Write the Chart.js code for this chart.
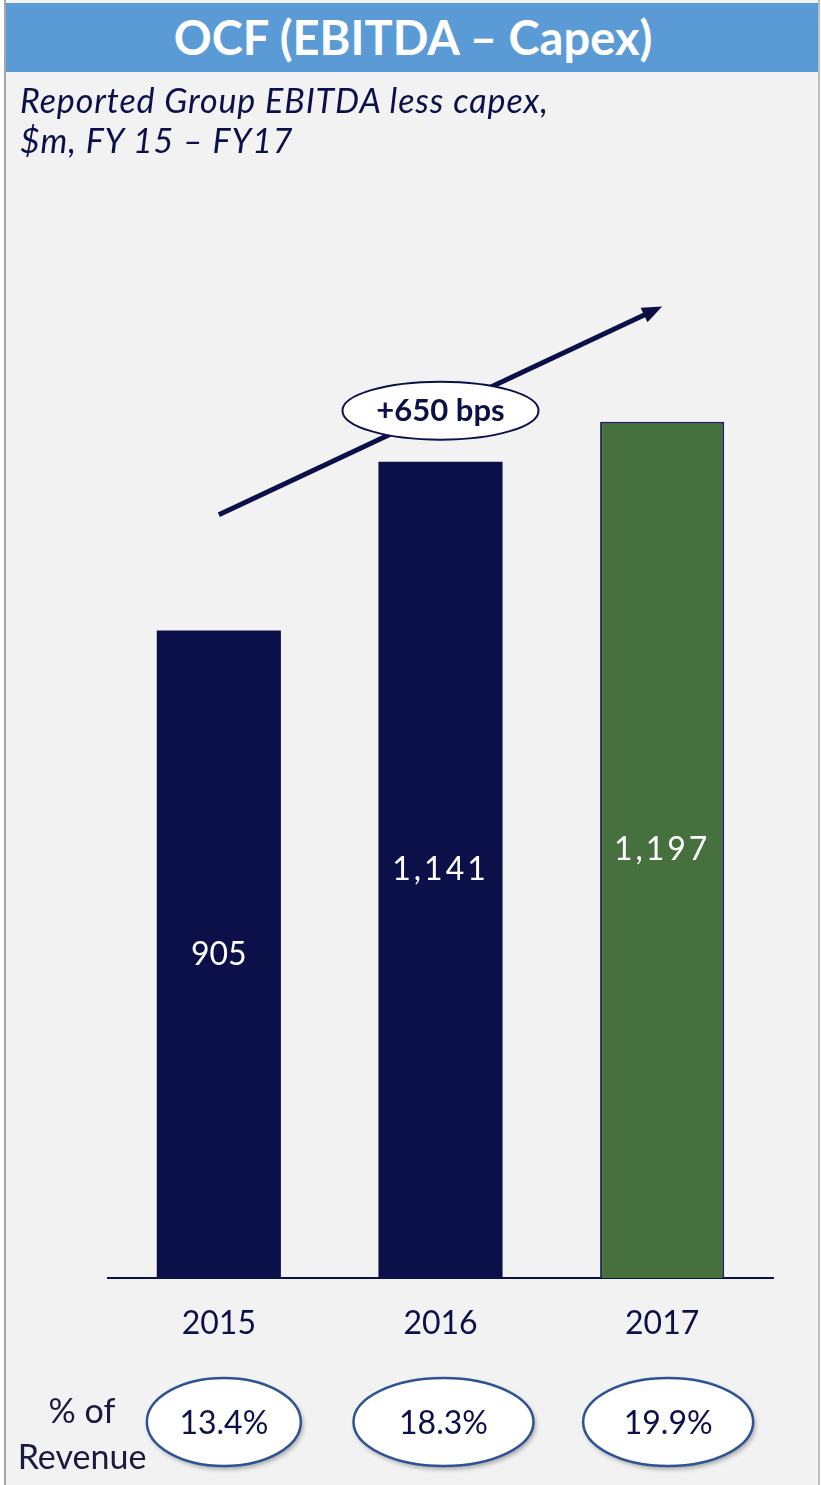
<!DOCTYPE html>
<html>
<head>
<meta charset="utf-8">
<script src="https://cdn.jsdelivr.net/npm/chart.js@4"></script>
<style>
  body { margin: 0; background: #ffffff; }
  #page {
    position: relative; width: 812px; height: 1485px; margin-left: 4px;
    background: #F2F2F2; border-left: 2px solid #A6A6A6; border-right: 2px solid #BFBFBF;
    font-family: Lato, "Open Sans", sans-serif; overflow: hidden;
  }
  #title {
    position: absolute; left: 0; top: 3px; width: 814px; height: 69px;
    background: #5B9BD5; color: #fff; font-weight: bold; font-size: 47px;
    text-align: center; line-height: 69px;
  }
  #subtitle {
    position: absolute; left: 14px; top: 80px; color: #0C1048;
    font-style: italic; font-size: 34px; line-height: 40px; letter-spacing: 0.9px;
  }
  #chart { position: absolute; left: -6px; top: 0; }
</style>
</head>
<body>
<div id="page">
  <canvas id="chart" width="821" height="1485"></canvas>
  <div id="title">OCF (EBITDA – Capex)</div>
  <div id="subtitle">Reported Group EBITDA less capex,<br>$m, FY 15 – FY17</div>
</div>
<script>
const years = ['2015', '2016', '2017'];
const ocf = [905, 1141, 1197];
const ocfLabels = ['905', '1,141', '1,197'];
const pctRevenue = ['13.4%', '18.3%', '19.9%'];
const growthLabel = '+650 bps';

const navy = '#0C1048';
const green = '#46703E';

// white value labels in the middle of each bar
const valueLabels = {
    id: 'valueLabels',
    afterDatasetsDraw(chart) {
        const ctx = chart.ctx;
        const meta = chart.getDatasetMeta(0);
        ctx.save();
        ctx.fillStyle = '#ffffff';
        ctx.font = '32px Lato, "Open Sans", sans-serif';
        ctx.textAlign = 'center';
        ctx.textBaseline = 'middle';
        meta.data.forEach((bar, i) => {
            ctx.letterSpacing = ocfLabels[i].includes(',') ? '3px' : '0px';
            ctx.fillText(ocfLabels[i], bar.x, (bar.y + bar.base) / 2);
        });
        ctx.restore();
    }
};

// trend arrow, bps bubble and % of revenue ovals
const extras = {
    id: 'extras',
    afterDraw(chart) {
        const ctx = chart.ctx;
        const x = chart.scales.x, y = chart.scales.y;
        const x0 = x.getPixelForValue(0), y0 = y.getPixelForValue(1067);
        const x1 = x.getPixelForValue(2), y1 = y.getPixelForValue(1358);
        const ang = Math.atan2(y1 - y0, x1 - x0);

        ctx.save();
        ctx.strokeStyle = navy;
        ctx.fillStyle = navy;
        ctx.lineWidth = 5;
        ctx.beginPath();
        ctx.moveTo(x0, y0);
        ctx.lineTo(x1 - 14 * Math.cos(ang), y1 - 14 * Math.sin(ang));
        ctx.stroke();
        ctx.beginPath();
        ctx.moveTo(x1, y1);
        ctx.lineTo(x1 - 20 * Math.cos(ang) + 8 * Math.sin(ang), y1 - 20 * Math.sin(ang) - 8 * Math.cos(ang));
        ctx.lineTo(x1 - 20 * Math.cos(ang) - 8 * Math.sin(ang), y1 - 20 * Math.sin(ang) + 8 * Math.cos(ang));
        ctx.closePath();
        ctx.fill();

        // bubble on the arrow
        const cx = (x0 + x1) / 2, cy = (y0 + y1) / 2;
        ctx.beginPath();
        ctx.ellipse(cx, cy, 98, 29, 0, 0, Math.PI * 2);
        ctx.fillStyle = '#ffffff';
        ctx.fill();
        ctx.lineWidth = 2;
        ctx.stroke();
        ctx.fillStyle = navy;
        ctx.font = 'bold 31px Lato, "Open Sans", sans-serif';
        ctx.textAlign = 'center';
        ctx.textBaseline = 'middle';
        ctx.fillText(growthLabel, cx, cy);

        // % of revenue row
        const rowY = 1422;
        ctx.fillStyle = '#1A1A40';
        ctx.font = '34px Lato, "Open Sans", sans-serif';
        ctx.fillText('% of', 82, 1412);
        ctx.fillText('Revenue', 82, 1458);

        const shift = [5, 3, 6];      // ovals sit a little right of the bar centres
        const halfW = [77, 90, 85];
        ctx.font = '32px Lato, "Open Sans", sans-serif';
        pctRevenue.forEach((p, i) => {
            const px = x.getPixelForValue(i) + shift[i];
            ctx.save();
            ctx.shadowColor = 'rgba(0,0,0,0.35)';
            ctx.shadowBlur = 5;
            ctx.shadowOffsetX = 2;
            ctx.shadowOffsetY = 3;
            ctx.beginPath();
            ctx.ellipse(px, rowY, halfW[i], 44, 0, 0, Math.PI * 2);
            ctx.fillStyle = '#ffffff';
            ctx.fill();
            ctx.restore();
            ctx.beginPath();
            ctx.ellipse(px, rowY, halfW[i], 44, 0, 0, Math.PI * 2);
            ctx.strokeStyle = '#2E5395';
            ctx.lineWidth = 2.5;
            ctx.stroke();
            ctx.fillStyle = navy;
            ctx.fillText(p, px, rowY + 2);
        });
        ctx.restore();
    }
};

new Chart(document.getElementById('chart'), {
    type: 'bar',
    data: {
        labels: years,
        datasets: [{
            data: ocf,
            backgroundColor: [navy, navy, green],
            borderColor: [navy, navy, '#1B2452'],
            borderWidth: [0, 0, 2],
            barPercentage: 0.56,
            categoryPercentage: 1
        }]
    },
    options: {
        responsive: false,
        animation: false,
        layout: { padding: { left: 108, right: 48, top: 205, bottom: 0 } },
        plugins: { legend: { display: false }, tooltip: { enabled: false } },
        scales: {
            y: { display: false, min: 0, max: 1500 },
            x: {
                grid: { display: false, drawTicks: false },
                border: { color: navy, width: 2 },
                ticks: { color: navy, padding: 26, font: { size: 32, family: 'Lato, "Open Sans", sans-serif' } },
                afterFit(s) { s.height = 207; }
            }
        }
    },
    plugins: [valueLabels, extras]
});
</script>
</body>
</html>
